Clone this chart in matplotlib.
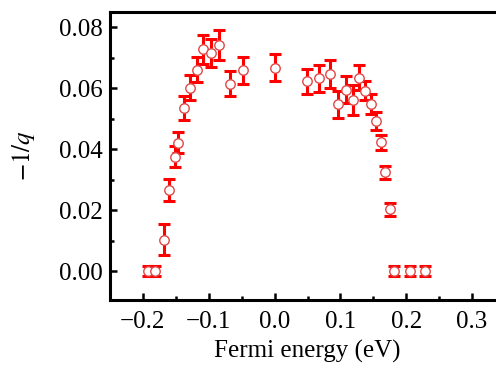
import matplotlib
matplotlib.use('Agg')
import matplotlib.pyplot as plt
from matplotlib.ticker import MultipleLocator
import numpy as np

plt.rcParams['font.family'] = ['Liberation Serif', 'DejaVu Serif']
plt.rcParams['mathtext.fontset'] = 'stix'

# data
fermi_energy = [-0.193, -0.181, -0.168, -0.160, -0.152, -0.146, -0.137, -0.128,
                -0.118, -0.109, -0.097, -0.084, -0.068, -0.048, 0.000, 0.049,
                0.068, 0.084, 0.097, 0.109, 0.119, 0.128, 0.137, 0.146,
                0.154, 0.161, 0.168, 0.176, 0.181, 0.206, 0.228]
inv_q = [0.000, 0.000, 0.0103, 0.0267, 0.0375, 0.0421, 0.0535, 0.0602,
         0.0661, 0.0727, 0.0716, 0.0743, 0.0615, 0.0659, 0.0667, 0.0622,
         0.0632, 0.0646, 0.0547, 0.0595, 0.0561, 0.0635, 0.0592, 0.0547,
         0.0493, 0.0422, 0.0324, 0.0202, 0.000, 0.000, 0.000]
inv_q_err = [0.0015, 0.0015, 0.005, 0.0036, 0.0035, 0.0035, 0.0038, 0.004,
             0.0042, 0.0046, 0.0045, 0.0049, 0.0042, 0.0044, 0.0044, 0.004,
             0.0043, 0.0045, 0.0044, 0.0045, 0.005, 0.004, 0.003, 0.0033,
             0.003, 0.0026, 0.0022, 0.0022, 0.0015, 0.0015, 0.0015]

fig = plt.figure(figsize=(4.96, 3.71), dpi=100)
ax = fig.add_axes([110/496, 71/371, 395/496, 288/371])

ax.errorbar(fermi_energy, inv_q, yerr=inv_q_err, fmt='none', ecolor='#ff0000',
            elinewidth=2.2, capsize=4.5, capthick=2.2, zorder=2)
ax.plot(fermi_energy, inv_q, 'o', ms=6.8, mfc='white', mec='#e04848', mew=1.0, zorder=3)

ax.set_xlim(-0.25, 0.35)
ax.set_ylim(-0.0095, 0.085)
ax.xaxis.set_major_locator(MultipleLocator(0.1))
ax.xaxis.set_minor_locator(MultipleLocator(0.05))
ax.yaxis.set_major_locator(MultipleLocator(0.02))
ax.yaxis.set_minor_locator(MultipleLocator(0.01))
ax.xaxis.set_major_formatter(matplotlib.ticker.FuncFormatter(lambda v, p: ('%.1f' % v).replace('-', '\u2212')))
ax.yaxis.set_major_formatter(matplotlib.ticker.FuncFormatter(lambda v, p: ('%.2f' % v).replace('-', '\u2212')))

for s in ax.spines.values():
    s.set_linewidth(2.2)
ax.tick_params(which='both', direction='in', top=False, right=False, labelsize=18, width=1.8)
ax.tick_params(axis='x', which='major', length=5, pad=8)
ax.tick_params(axis='y', which='major', length=5, pad=5)
ax.tick_params(which='minor', length=3)

ax.set_xlabel('Fermi energy (eV)', fontsize=18, labelpad=5)
ax.set_ylabel(r'$-1/q$', fontsize=18, labelpad=16)

fig.savefig('out.png', dpi=100)
